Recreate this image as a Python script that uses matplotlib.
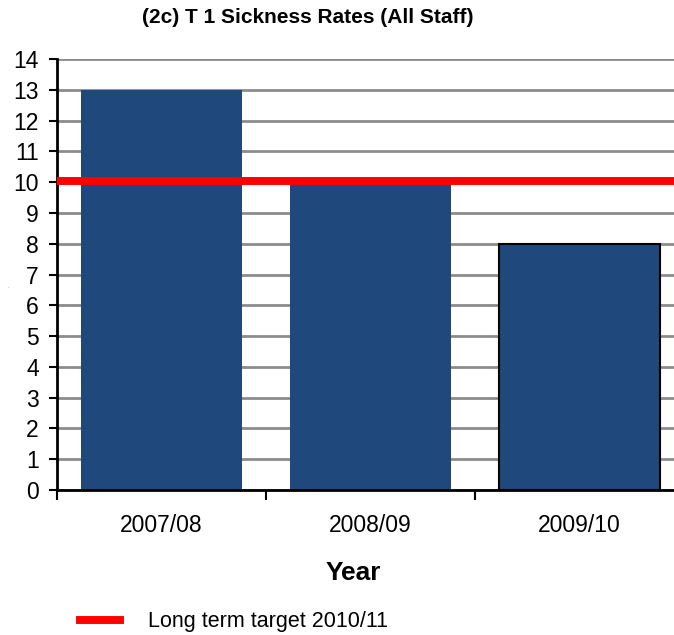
import matplotlib
matplotlib.use("Agg")
import matplotlib.pyplot as plt

plt.rcParams['font.family'] = ['Liberation Sans', 'DejaVu Sans']

years = ["2007/08", "2008/09", "2009/10"]
rates = [13.0, 10.0, 8.0]
target = 10.05
target_label = "Long term target 2010/11"

fig = plt.figure(figsize=(6.74, 6.35), dpi=100)
ax = fig.add_axes([0.0846, 0.2283, 0.9303, 0.6788])

x = range(len(years))
bars = ax.bar(x, rates, width=0.77, color="#1f497d", zorder=2)
bars[2].set_edgecolor("black")
bars[2].set_linewidth(1.5)

ax.axhline(target, color="#ff0000", linewidth=5.7, zorder=3, label=target_label)

ax.set_xlim(-0.5, 2.5)
ax.set_ylim(0, 14)
ax.set_yticks(range(0, 15))
# category separators as major ticks, year labels on minor ticks
ax.set_xticks([-0.5, 0.5, 1.5])
ax.set_xticklabels([])
ax.set_xticks(list(x), minor=True)
ax.set_xticklabels(years, minor=True)
ax.tick_params(axis="x", which="major", direction="out", length=7, width=1.5)
ax.tick_params(axis="x", which="minor", length=0, pad=17, labelsize=16.5)
ax.tick_params(axis="y", direction="out", length=6, width=1.5, labelsize=16.5, pad=7)

ax.yaxis.grid(True, color="#8c8c8c", linewidth=2, zorder=0)
ax.set_axisbelow(True)
for s in ["top", "right"]:
    ax.spines[s].set_visible(False)
ax.spines["left"].set_linewidth(2)
ax.spines["bottom"].set_linewidth(2)

fig.text(0.457, 0.972, "(2c) T 1 Sickness Rates (All Staff)", ha="center", va="center",
         fontsize=15, fontweight="bold")
fig.text(0.524, 0.098, "Year", ha="center", va="center", fontsize=19, fontweight="bold")
fig.text(0.012, 0.547, "-", ha="center", va="center", fontsize=3, color="#555555")

fig.legend(loc="center left", bbox_to_anchor=(80 / 674, 1 - 622 / 635), frameon=False,
           fontsize=15.5, handlelength=1.86, handletextpad=1.3, borderpad=0,
           borderaxespad=0)

fig.savefig("out.png", dpi=100)
